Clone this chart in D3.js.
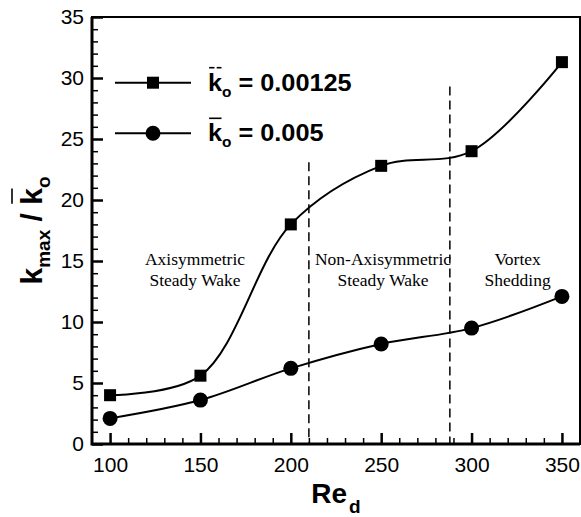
<!DOCTYPE html>
<html lang="en">
  <head>
    <meta charset="UTF-8" />
    <title>kmax / ko vs Re</title>
    <script src="https://d3js.org/d3.v7.min.js"></script>
    <style>
      body { margin: 0; background: #fff; }
      svg { display: block; }
      .tick text { font-family: "Liberation Sans", Arial, sans-serif; font-size: 21px; fill: #000; }
      .bold { font-family: "Liberation Sans", Arial, sans-serif; font-weight: bold; fill: #000; }
      .regime { font-family: "Liberation Serif", "Times New Roman", serif; font-size: 17.5px; fill: #000; }
    </style>
  </head>
  <body>
    <script>
      const reynolds = [100, 150, 200, 250, 300, 350];
      const kLow = [4.0, 5.6, 18.0, 22.8, 24.0, 31.3]; // ko = 0.00125
      const kHigh = [2.1, 3.6, 6.2, 8.2, 9.5, 12.1]; // ko = 0.005
      const xTicks = [100, 150, 200, 250, 300, 350];
      const yTicks = [0, 5, 10, 15, 20, 25, 30, 35];
      const regimeBounds = [210, 288];
      const regimeTops = [23.1, 29.3];
      const regimeNames = [["Axisymmetric", "Steady Wake"], ["Non-Axisymmetric", "Steady Wake"], ["Vortex", "Shedding"]];
      const regimeCenters = [147, 251, 325.5];
      const legendLabels = ["0.00125", "0.005"];

      const width = 581, height = 517;
      const x = d3.scaleLinear().domain([90, 360]).range([92, 580]);
      const y = d3.scaleLinear().domain([0, 35]).range([444, 17]);
      const [x0, x1] = x.range();
      const [y0, y1] = y.range();

      const svg = d3.select("body").append("svg")
        .attr("width", width).attr("height", height);

      // minor ticks
      svg.append("g")
        .attr("transform", `translate(0,${y0})`)
        .call(d3.axisBottom(x).tickValues(d3.range(100, 360, 10).filter(v => v % 50)).tickSize(-6).tickFormat(""))
        .call(g => g.select(".domain").remove())
        .selectAll("line").attr("stroke-width", 1.5);
      svg.append("g")
        .attr("transform", `translate(${x0},0)`)
        .call(d3.axisLeft(y).tickValues(d3.range(1, 35, 1).filter(v => v % 5)).tickSize(-6).tickFormat(""))
        .call(g => g.select(".domain").remove())
        .selectAll("line").attr("stroke-width", 1.5);

      // major ticks
      svg.append("g")
        .attr("transform", `translate(0,${y0})`)
        .call(d3.axisBottom(x).tickValues(xTicks).tickSize(-11).tickPadding(13))
        .call(g => g.select(".domain").remove())
        .selectAll("line").attr("stroke-width", 2.5);
      svg.append("g")
        .attr("transform", `translate(${x0},0)`)
        .call(d3.axisLeft(y).tickValues(yTicks).tickSize(-11).tickPadding(8))
        .call(g => g.select(".domain").remove())
        .selectAll("line").attr("stroke-width", 2.5);

      // frame
      svg.append("rect")
        .attr("x", x0).attr("y", y1).attr("width", x1 - x0).attr("height", y0 - y1)
        .attr("fill", "none").attr("stroke", "#000").attr("stroke-width", 2);
      svg.append("path")
        .attr("d", `M${x0},${y1}V${y0}H${x1}`)
        .attr("fill", "none").attr("stroke", "#000").attr("stroke-width", 3);

      // regime boundaries
      svg.selectAll(".bound").data(regimeBounds).join("line")
        .attr("x1", d => x(d)).attr("x2", d => x(d))
        .attr("y1", (d, i) => y(regimeTops[i])).attr("y2", y0)
        .attr("stroke", "#000").attr("stroke-width", 1.5).attr("stroke-dasharray", "9,5");

      regimeNames.forEach((lines, i) => {
        const t = svg.append("text").attr("class", "regime").attr("text-anchor", "middle");
        lines.forEach((s, j) => {
          t.append("tspan").attr("x", x(regimeCenters[i])).attr("y", y(15.2) + 6 + j * 21).text(s);
        });
      });

      // curves
      const line = d3.line()
        .x((d, i) => x(reynolds[i])).y(d => y(d))
        .curve(d3.curveCatmullRom.alpha(0.5));
      [kLow, kHigh].forEach(s => {
        svg.append("path").attr("d", line(s))
          .attr("fill", "none").attr("stroke", "#000").attr("stroke-width", 2);
      });
      svg.selectAll(".sq").data(kLow).join("rect")
        .attr("x", (d, i) => x(reynolds[i]) - 6).attr("y", d => y(d) - 6)
        .attr("width", 12).attr("height", 12).attr("fill", "#000");
      svg.selectAll(".ci").data(kHigh).join("circle")
        .attr("cx", (d, i) => x(reynolds[i])).attr("cy", d => y(d)).attr("r", 7.5).attr("fill", "#000");

      // overbar over a bold "k" whose baseline starts at (x, y)
      function barK(g, x, y, fs, dashed) {
        const kw = fs * 0.556;
        const by = y - fs * 1.0;
        const segs = dashed ? [[x + 1, x + kw / 2 - 0.5], [x + kw / 2 + 1.5, x + kw - 0.5]] : [[x + 1, x + kw - 0.5]];
        segs.forEach(([a, b]) => {
          g.append("line").attr("x1", a).attr("x2", b).attr("y1", by).attr("y2", by)
            .attr("stroke", "#000").attr("stroke-width", 1.6);
        });
      }

      // legend
      const legY = [82.7, 133.3];
      legY.forEach((ly, i) => {
        svg.append("line").attr("x1", 115).attr("x2", 191).attr("y1", ly).attr("y2", ly)
          .attr("stroke", "#000").attr("stroke-width", 2);
        if (i === 0) {
          svg.append("rect").attr("x", 153 - 6).attr("y", ly - 6).attr("width", 12).attr("height", 12);
        } else {
          svg.append("circle").attr("cx", 153).attr("cy", ly).attr("r", 7.5);
        }
        const g = svg.append("g").attr("transform", `translate(208,${ly + 8}) scale(1.1,1)`);
        const t = g.append("text").attr("class", "bold").attr("font-size", 23);
        t.append("tspan").text("k");
        t.append("tspan").attr("font-size", 14).attr("dy", 6).text("o");
        t.append("tspan").attr("dy", -6).text(" = " + legendLabels[i]);
        barK(g, 0, 0, 23, i === 0);
      });

      // axis titles
      const xt = svg.append("text").attr("class", "bold").attr("font-size", 28)
        .attr("text-anchor", "middle").attr("x", (x0 + x1) / 2).attr("y", 503);
      xt.append("tspan").text("Re");
      xt.append("tspan").attr("font-size", 19).attr("dy", 10).attr("dx", 2).text("d");

      const yg = svg.append("g").attr("transform", `translate(42,${(y0 + y1) / 2}) rotate(-90)`);
      const yt = yg.append("text").attr("class", "bold").attr("font-size", 30);
      yt.append("tspan").text("k");
      yt.append("tspan").attr("font-size", 19).attr("dy", 8).text("max");
      yt.append("tspan").attr("dy", -8).text(" / ");
      yt.append("tspan").text("k");
      yt.append("tspan").attr("font-size", 19).attr("dy", 8).text("o");
      const L = yt.node().getComputedTextLength();
      yt.attr("x", -L / 2);
      const kStart = -L / 2 + yt.node().getSubStringLength(0, 7);
      barK(yg, kStart, 0, 30, false);
    </script>
  </body>
</html>
